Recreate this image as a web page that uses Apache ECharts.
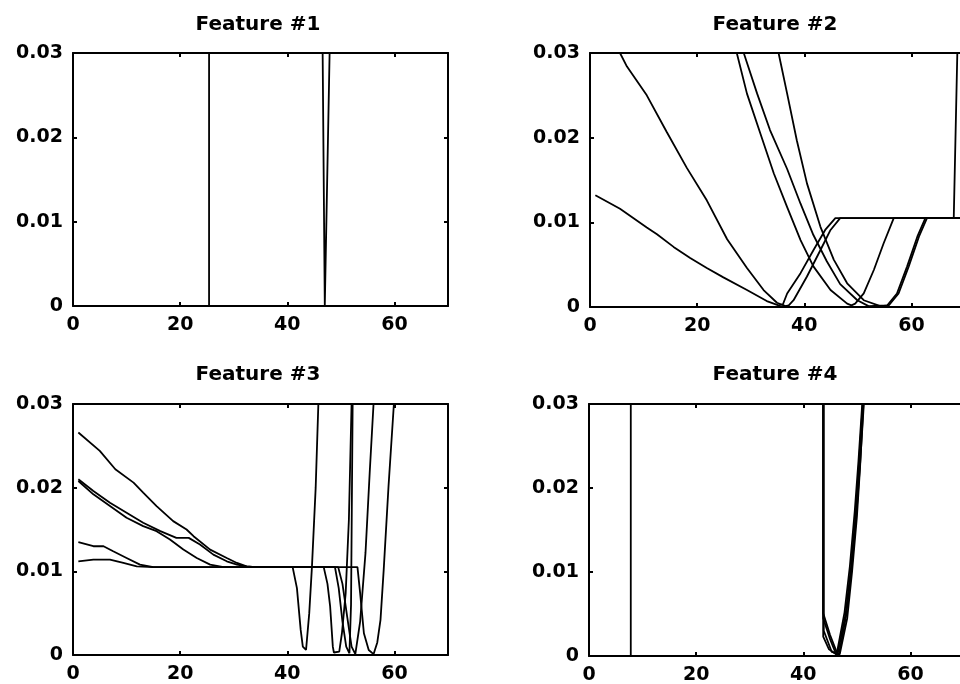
<!DOCTYPE html>
<html><head><meta charset="utf-8">
<script src="https://cdn.jsdelivr.net/npm/echarts@6/dist/echarts.min.js"></script>
<style>html,body{margin:0;padding:0;background:#fff}#c{width:960px;height:684px}</style>
</head><body><div id="c"></div>
<script>
// ---------- data ----------
const titles = ['Feature #1', 'Feature #2', 'Feature #3', 'Feature #4'];
const xRange = [0, 70, 20];        // min, max, step
const yRange = [0, 0.03, 0.01];    // min, max, step

// Feature #1
const f1_a = [[1,0],[25.4,0],[25.42,1],[70,1]];
const f1_b = [[1,1],[46.55,1],[46.6,0.03],[47.0,0],[47.9,0.03],[47.95,1],[70,1]];

// Feature #2
const f2_a = [[1,0.0132],[5.6,0.0116],[10.6,0.0094],[12.5,0.0086],[15.6,0.0071],[18.7,0.0058],[21.8,0.0046],[24.9,0.0035],[29.3,0.0020],[33.0,0.0007],[35.2,0.0002],[36.0,0.0003],[36.8,0.0016],[39.3,0.0040],[41.7,0.0067],[43.9,0.0091],[45.8,0.0105],[67.9,0.0105],[68.6,0.031]];
const f2_b = [[1,0.036],[5.6,0.030],[6.9,0.0284],[10.6,0.0250],[14.3,0.0207],[18.1,0.0164],[21.8,0.0126],[25.6,0.0080],[29.3,0.0046],[32.4,0.0020],[34.9,0.0005],[36.5,0.0001],[37.1,0.0002],[38.0,0.0008],[40.5,0.0036],[43.0,0.0067],[44.9,0.0091],[46.7,0.0105],[70,0.0105]];
const f2_c = [[1,0.08],[27.4,0.030],[29.3,0.0252],[31.8,0.0205],[34.3,0.0158],[36.8,0.0118],[39.3,0.0079],[41.7,0.0048],[44.9,0.0020],[48.0,0.0004],[48.8,0.0002],[49.5,0.0004],[51.1,0.0016],[53.0,0.0044],[54.8,0.0075],[56.7,0.0105],[70,0.0105]];
const f2_d = [[1,0.08],[28.7,0.030],[31.2,0.0252],[33.6,0.0209],[36.8,0.0163],[39.3,0.0122],[41.7,0.0085],[44.2,0.0054],[46.7,0.0027],[49.9,0.0008],[52.0,0.0001],[55.5,0.0002],[57.3,0.0016],[59.2,0.0048],[61.1,0.0083],[62.6,0.0105],[70,0.0105]];
const f2_e = [[1,0.1],[35.2,0.030],[36.8,0.0252],[38.6,0.0197],[40.5,0.0146],[43.0,0.0095],[45.5,0.0056],[48.0,0.0028],[51.1,0.0008],[54.2,0.0001],[55.8,0.0002],[57.6,0.0016],[59.5,0.0048],[61.4,0.0083],[62.9,0.0105],[70,0.0105]];

// Feature #3
const f3_a = [[1,0.0266],[5,0.0244],[7.9,0.0222],[11.3,0.0206],[13.1,0.0194],[15.6,0.0178],[18.7,0.0160],[21.2,0.0150],[22.5,0.0142],[25.6,0.0126],[28.7,0.0116],[30.6,0.0110],[32.4,0.0106],[34.0,0.0105],[41.0,0.0105],[41.8,0.0080],[42.5,0.0030],[42.9,0.0010],[43.5,0.0006],[44.1,0.0050],[44.6,0.0105],[45.3,0.0200],[45.8,0.030],[46.2,0.038]];
const f3_b = [[1,0.0210],[3.8,0.0196],[6.9,0.0182],[10,0.0170],[13.1,0.0158],[16.3,0.0148],[19.3,0.0140],[21.6,0.0140],[23.7,0.0132],[26.2,0.0120],[28.7,0.0112],[30.6,0.0108],[32.4,0.0106],[34.0,0.0105],[46.8,0.0105],[47.5,0.0085],[48.0,0.0058],[48.5,0.0010],[48.7,0.0003],[49.7,0.0004],[50.2,0.0026],[50.9,0.0074],[51.5,0.0162],[52.0,0.030],[52.3,0.036]];
const f3_c = [[1,0.0208],[3.8,0.0192],[6.9,0.0178],[10,0.0164],[13.1,0.0154],[15.6,0.0148],[18.1,0.0138],[20.6,0.0126],[23.1,0.0116],[25.6,0.0108],[28.1,0.0105],[48.9,0.0105],[49.6,0.0080],[50.3,0.0040],[51.0,0.0010],[51.6,0.0002],[51.9,0.0060],[52.2,0.030],[52.4,0.040]];
const f3_d = [[1,0.0135],[3.8,0.0130],[5.7,0.0130],[7.5,0.0124],[10,0.0116],[12.5,0.0108],[15,0.0105],[49.5,0.0105],[50.3,0.0085],[51.2,0.0045],[52.0,0.0010],[52.7,0.0001],[53.6,0.0040],[54.6,0.0122],[55.4,0.0220],[56.1,0.030],[56.4,0.034]];
const f3_e = [[1,0.0112],[3.8,0.0114],[6.9,0.0114],[9.4,0.0110],[11.9,0.0106],[15,0.0105],[53.1,0.0105],[53.6,0.0074],[54.3,0.0026],[55.2,0.0006],[56.1,0.0001],[56.8,0.0015],[57.4,0.0042],[58.0,0.0102],[58.9,0.0202],[59.9,0.030],[60.3,0.035]];

// Feature #4
const f4_a = [[1,0],[7.8,0],[7.82,1],[70,1]];
const f4_b = [[1,1],[43.7,1],[43.72,0.0051],[45.0,0.0025],[46.4,0.0002],[47.9,0.0050],[48.9,0.0105],[49.8,0.0170],[50.4,0.0230],[51.1,0.0300],[52.0,0.040]];
const f4_c = [[1,1],[43.7,1],[43.72,0.0045],[45.0,0.0020],[46.2,0.0001],[47.7,0.0052],[48.7,0.0107],[49.6,0.0172],[50.3,0.0232],[51.0,0.0300],[52.0,0.041]];
const f4_d = [[1,1],[43.7,1],[43.72,0.0023],[44.8,0.0008],[46.6,0.0000],[48.0,0.0048],[49.0,0.0103],[49.9,0.0168],[50.6,0.0228],[51.3,0.0300],[52.0,0.038]];
const f4_e = [[1,1],[43.8,1],[43.82,0.0030],[45.3,0.0005],[46.8,0.0002],[48.2,0.0045],[49.1,0.0100],[50.0,0.0165],[50.6,0.0225],[51.2,0.0298],[52.0,0.039]];

const panels = [
  [f1_a, f1_b],
  [f2_a, f2_b, f2_c, f2_d, f2_e],
  [f3_a, f3_b, f3_c, f3_d, f3_e],
  [f4_a, f4_b, f4_c, f4_d, f4_e]
];

// ---------- layout ----------
const boxes = [
  {left: 73, top: 53, width: 375, height: 253, tx: 253, ty: 10},
  {left: 590, top: 53, width: 375, height: 254, tx: 770, ty: 10},
  {left: 73, top: 404, width: 375, height: 251, tx: 253, ty: 360},
  {left: 589, top: 404, width: 375, height: 252, tx: 770, ty: 360}
];
const FONT = 'DejaVu Sans';
const axisLine = {show: true, onZero: false, lineStyle: {color: '#000', width: 2}};
const axisTick = {show: true, inside: true, length: 4, lineStyle: {color: '#000', width: 2}};
const lab = {fontFamily: FONT, fontWeight: 'bold', fontSize: 19, color: '#000'};

const grid = [], xAxis = [], yAxis = [], series = [], title = [];
boxes.forEach((b, i) => {
  grid.push({left: b.left, top: b.top, width: b.width, height: b.height, containLabel: false, outerBoundsMode: 'none'});
  title.push({text: titles[i], left: b.tx, top: b.ty, textAlign: 'center',
    textStyle: {fontFamily: FONT, fontWeight: 'bold', fontSize: 20, color: '#000'}});
  const xa = {type: 'value', gridIndex: i, min: xRange[0], max: xRange[1], interval: xRange[2],
    axisLine, axisTick, splitLine: {show: false}};
  xAxis.push(Object.assign({}, xa, {position: 'bottom',
    axisLabel: Object.assign({show: true, margin: 10, showMaxLabel: false}, lab)}));
  xAxis.push(Object.assign({}, xa, {position: 'top', axisLabel: {show: false}}));
  const ya = {type: 'value', gridIndex: i, min: yRange[0], max: yRange[1], interval: yRange[2],
    axisLine, axisTick, splitLine: {show: false}};
  yAxis.push(Object.assign({}, ya, {position: 'left',
    axisLabel: Object.assign({show: true, margin: 10, padding: [0, 0, 9, 0]}, lab)}));
  yAxis.push(Object.assign({}, ya, {position: 'right', axisLabel: {show: false}}));
  panels[i].forEach(d => {
    series.push({type: 'line', xAxisIndex: 2 * i, yAxisIndex: 2 * i, data: d,
      showSymbol: false, symbol: 'none', clip: true, smooth: false,
      lineStyle: {color: '#000', width: 1.8}, emphasis: {disabled: true}});
  });
});

const chart = echarts.init(document.getElementById('c'), null, {renderer: 'canvas'});
chart.setOption({backgroundColor: '#fff', animation: false, title, grid, xAxis, yAxis, series});
</script>
</body></html>
